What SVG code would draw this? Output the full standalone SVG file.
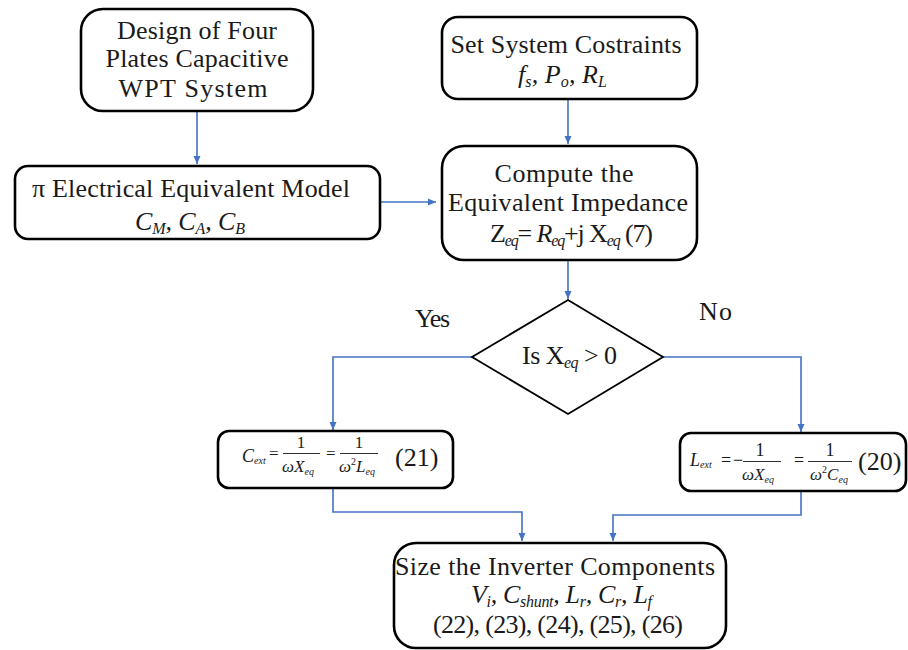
<svg xmlns="http://www.w3.org/2000/svg" width="908" height="650" viewBox="0 0 908 650">
<style>
.box{fill:#fff;stroke:#000;stroke-width:2.6}
.t{font-family:"Liberation Serif","Times New Roman",serif;font-size:26px;fill:#1a1a1a}
.i{font-style:italic}
.m{font-family:"Liberation Serif","Times New Roman",serif;fill:#1a1a1a}
.c{fill:none;stroke:#4472C4;stroke-width:1.6}
.bar{stroke:#1a1a1a;stroke-width:0.9}
</style>
<defs>
<marker id="ah" markerWidth="8" markerHeight="8" refX="8" refY="4" orient="auto" markerUnits="userSpaceOnUse">
<path d="M0,0.5 L8,4 L0,7.5 Z" fill="#4472C4"/>
</marker>
</defs>
<rect width="908" height="650" fill="#fff"/>

<g id="connectors">
<path class="c" d="M197,111 V164" marker-end="url(#ah)"/>
<path class="c" d="M380,202 H436" marker-end="url(#ah)"/>
<path class="c" d="M568,99 V144" marker-end="url(#ah)"/>
<path class="c" d="M568,260 V299" marker-end="url(#ah)"/>
<path class="c" d="M472,357 H333 V430" marker-end="url(#ah)"/>
<path class="c" d="M663,357 H801 V432" marker-end="url(#ah)"/>
<path class="c" d="M333,488 V512 H522 V541" marker-end="url(#ah)"/>
<path class="c" d="M801,491 V515 H613 V541" marker-end="url(#ah)"/>
</g>

<g id="design">
<rect class="box" x="81" y="9" width="232" height="102" rx="22"/>
<text class="t" x="197" y="39" text-anchor="middle" textLength="160">Design of Four</text>
<text class="t" x="197" y="67" text-anchor="middle" textLength="183">Plates Capacitive</text>
<text class="t" x="193" y="97" text-anchor="middle" textLength="149">WPT System</text>
</g>

<g id="model">
<rect class="box" x="15" y="166" width="365" height="73" rx="13"/>
<text class="t" x="32" y="197" textLength="318">π Electrical Equivalent Model</text>
<text class="t i" x="135" y="230" textLength="110">C<tspan font-size="16" dy="4">M</tspan><tspan dy="-4">, C</tspan><tspan font-size="16" dy="4">A</tspan><tspan dy="-4">, C</tspan><tspan font-size="16" dy="4">B</tspan></text>
</g>

<g id="constraints">
<rect class="box" x="442" y="17" width="255" height="82" rx="16"/>
<text class="t" x="566" y="53" text-anchor="middle" textLength="231">Set System Costraints</text>
<text class="t i" x="518" y="83" textLength="89">f<tspan font-size="16" dy="4">s</tspan><tspan dy="-4">, P</tspan><tspan font-size="16" dy="4">o</tspan><tspan dy="-4">, R</tspan><tspan font-size="16" dy="4">L</tspan></text>
</g>

<g id="compute">
<rect class="box" x="442" y="146" width="255" height="114" rx="22"/>
<text class="t" x="564" y="182" text-anchor="middle" textLength="139">Compute the</text>
<text class="t" x="568" y="211" text-anchor="middle" textLength="240">Equivalent Impedance</text>
<text class="t" x="490" y="242" textLength="163">Z<tspan font-size="16" class="i" dy="4">eq</tspan><tspan dy="-4">= </tspan><tspan class="i">R</tspan><tspan font-size="16" class="i" dy="4">eq</tspan><tspan dy="-4">+j X</tspan><tspan font-size="16" class="i" dy="4">eq</tspan><tspan dy="-4"> (7)</tspan></text>
</g>

<g id="decision">
<path d="M568,300 L663,357 L568,414 L472,357 Z" fill="#fff" stroke="#000" stroke-width="1.8"/>
<text class="t" x="522" y="364" textLength="95">Is X<tspan font-size="16" class="i" dy="4">eq</tspan><tspan dy="-4"> &gt; 0</tspan></text>
</g>

<g id="labels">
<text class="t" x="415" y="327" textLength="35">Yes</text>
<text class="t" x="699" y="320" textLength="33">No</text>
</g>

<g id="cext">
<rect class="box" x="218" y="431" width="235" height="57" rx="11"/>
<text class="m i" x="242" y="462" font-size="18">C<tspan font-size="10" dy="2">ext</tspan></text>
<text class="m" x="269" y="459" font-size="17">=</text>
<text class="m" x="301" y="448" font-size="17" text-anchor="middle">1</text>
<line class="bar" x1="283" y1="453.5" x2="320" y2="453.5"/>
<text class="m i" x="298" y="472" font-size="17" text-anchor="middle">ωX<tspan font-size="10" dy="3">eq</tspan></text>
<text class="m" x="326" y="459" font-size="17">=</text>
<text class="m" x="359" y="448" font-size="17" text-anchor="middle">1</text>
<line class="bar" x1="340" y1="453.5" x2="378" y2="453.5"/>
<text class="m i" x="357" y="472" font-size="17" text-anchor="middle">ω<tspan font-size="10" dy="-7" font-style="normal">2</tspan><tspan dy="7">L</tspan><tspan font-size="10" dy="3">eq</tspan></text>
<text class="t" x="395" y="466" font-size="25">(21)</text>
</g>

<g id="lext">
<rect class="box" x="680" y="433" width="226" height="58" rx="11"/>
<text class="m i" x="690" y="466" font-size="18">L<tspan font-size="10" dy="2">ext</tspan></text>
<text class="m" x="721" y="466" font-size="18">=</text>
<text class="m" x="733" y="466" font-size="18">−</text>
<text class="m" x="760" y="456" font-size="18" text-anchor="middle">1</text>
<line class="bar" x1="743" y1="461.5" x2="781" y2="461.5"/>
<text class="m i" x="758" y="480" font-size="17" text-anchor="middle">ωX<tspan font-size="10" dy="3">eq</tspan></text>
<text class="m" x="794" y="466" font-size="18">=</text>
<text class="m" x="830" y="456" font-size="18" text-anchor="middle">1</text>
<line class="bar" x1="808" y1="461.5" x2="852" y2="461.5"/>
<text class="m i" x="829" y="480" font-size="17" text-anchor="middle">ω<tspan font-size="10" dy="-7" font-style="normal">2</tspan><tspan dy="7">C</tspan><tspan font-size="10" dy="3">eq</tspan></text>
<text class="t" x="858" y="470" font-size="25">(20)</text>
</g>

<g id="inverter">
<rect class="box" x="394" y="543" width="332" height="105" rx="22"/>
<text class="t" x="555" y="575" text-anchor="middle" textLength="320">Size the Inverter Components</text>
<text class="t i" x="471" y="603" textLength="181">V<tspan font-size="16" dy="4">i</tspan><tspan dy="-4">, C</tspan><tspan font-size="16" dy="4">shunt</tspan><tspan dy="-4">, L</tspan><tspan font-size="16" dy="4">r</tspan><tspan dy="-4">, C</tspan><tspan font-size="16" dy="4">r</tspan><tspan dy="-4">, L</tspan><tspan font-size="16" dy="4">f</tspan></text>
<text class="t" x="558" y="633" text-anchor="middle" textLength="250">(22), (23), (24), (25), (26)</text>
</g>
</svg>
